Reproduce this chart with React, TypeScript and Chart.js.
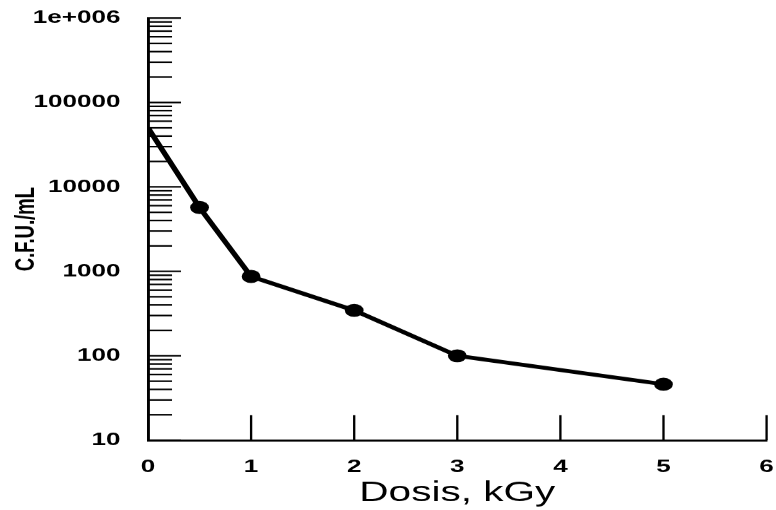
import React, { useEffect, useRef } from 'react';
import { Chart, registerables } from 'chart.js';

Chart.register(...registerables);

// ---- data ----
const doses = [0, 0.5, 1, 2, 3, 5];
const cfu = [50000, 5700, 870, 345, 100, 46];
const pointSizes = [0, 6.5, 6.5, 6.5, 6.5, 6.5];
const xTickValues = [0, 1, 2, 3, 4, 5, 6];
const yMajorValues = [10, 100, 1000, 10000, 100000, 1000000];
const yTickLabels = ['10', '100', '1000', '10000', '100000', '1e+006'];
const yMinorMultipliers = [2, 3, 4, 5, 6, 7, 8, 9];
const xTitle = 'Dosis, kGy';
const yTitle = 'C.F.U./mL';

// ---- geometry (the reference is horizontally stretched) ----
const W = 776;
const H = 510;
const LAYOUT_W = 536;
const S = W / LAYOUT_W;

const innerTicks = {
  id: 'innerTicks',
  afterDatasetsDraw(chart: any) {
    const { ctx, chartArea, scales } = chart;
    const x = scales.x;
    const y = scales.y;
    ctx.save();
    ctx.strokeStyle = '#000';
    ctx.lineCap = 'butt';
    ctx.lineWidth = 1.6;
    for (let i = 0; i < yMajorValues.length; i++) {
      const v = yMajorValues[i];
      const py = y.getPixelForValue(v);
      ctx.beginPath();
      ctx.moveTo(chartArea.left, py);
      ctx.lineTo(chartArea.left + 22.8, py);
      ctx.stroke();
      if (i < yMajorValues.length - 1) {
        for (const m of yMinorMultipliers) {
          const pm = y.getPixelForValue(v * m);
          ctx.beginPath();
          ctx.moveTo(chartArea.left, pm);
          ctx.lineTo(chartArea.left + 16.6, pm);
          ctx.stroke();
        }
      }
    }
    for (const v of xTickValues) {
      if (v === 0) continue;
      const px = x.getPixelForValue(v);
      ctx.beginPath();
      ctx.moveTo(px, chartArea.bottom);
      ctx.lineTo(px, chartArea.bottom - 25);
      ctx.stroke();
    }
    ctx.restore();
  },
};

export default function App() {
  const ref = useRef<HTMLCanvasElement | null>(null);

  useEffect(() => {
    document.body.style.margin = '0';
    const canvas = ref.current;
    if (!canvas) return;
    const tickFont = { family: 'Liberation Sans', size: 18, weight: 'bold' as const };
    const chart = new Chart(canvas, {
      type: 'line',
      data: {
        datasets: [
          {
            data: doses.map((d, i) => ({ x: d, y: cfu[i] })),
            borderColor: '#000',
            backgroundColor: '#000',
            borderWidth: 4,
            pointRadius: pointSizes,
            pointBackgroundColor: '#000',
            pointBorderWidth: 0,
            tension: 0,
          },
        ],
      },
      options: {
        responsive: false,
        devicePixelRatio: S,
        animation: false,
        events: [],
        layout: { padding: { left: 0, right: LAYOUT_W - 768 / S, top: 18, bottom: 0 } },
        plugins: { legend: { display: false }, tooltip: { enabled: false } },
        scales: {
          x: {
            type: 'linear',
            min: 0,
            max: 6,
            grid: { display: false, drawTicks: false },
            border: { display: true, color: '#000', width: 2 },
            ticks: {
              color: '#000',
              font: tickFont,
              padding: 16,
              autoSkip: false,
              maxRotation: 0,
              callback: (v: any) => String(v),
            },
            title: {
              display: true,
              text: xTitle,
              color: '#000',
              font: { family: 'Liberation Sans', size: 28, lineHeight: 1.2 },
              padding: { top: 0, bottom: 0 },
            },
            afterBuildTicks: (s: any) => {
              s.ticks = xTickValues.map((v) => ({ value: v }));
            },
            afterFit: (s: any) => {
              s.height = H - 440;
              s.paddingLeft = 0;
              s.paddingRight = 0;
            },
          },
          y: {
            type: 'logarithmic',
            min: 10,
            max: 1000000,
            grid: { display: false, drawTicks: false },
            border: { display: true, color: '#000', width: 2 },
            ticks: {
              color: '#000',
              font: tickFont,
              padding: 19,
              autoSkip: false,
              callback: (v: any) => {
                const idx = yMajorValues.indexOf(Number(v));
                return idx >= 0 ? yTickLabels[idx] : '';
              },
            },
            title: {
              display: true,
              text: yTitle,
              color: '#000',
              font: { family: 'Liberation Sans', size: 18.5, weight: 'bold', lineHeight: 1.2 },
              padding: { top: 7.5, bottom: 0 },
            },
            afterBuildTicks: (s: any) => {
              s.ticks = yMajorValues.map((v) => ({ value: v, major: true }));
            },
            afterFit: (s: any) => {
              s.width = 148 / S;
              s.paddingTop = 0;
              s.paddingBottom = 0;
            },
          },
        },
      },
      plugins: [innerTicks],
    });
    return () => chart.destroy();
  }, []);

  return (
    <div style={{ width: W, height: H, background: '#fff' }}>
      <canvas
        ref={ref}
        width={LAYOUT_W}
        height={H}
        style={{ width: W + 'px', height: H + 'px', display: 'block' }}
      />
    </div>
  );
}
